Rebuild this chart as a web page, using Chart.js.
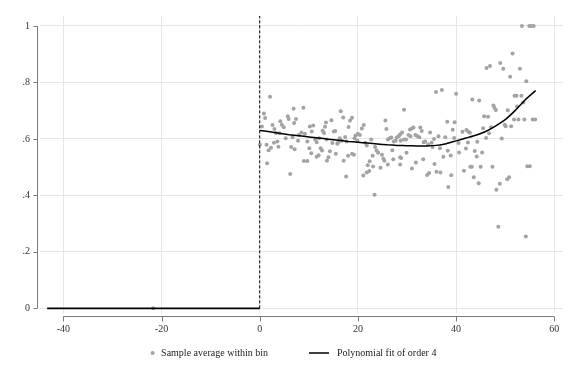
<!DOCTYPE html>
<html><head><meta charset="utf-8">
<script src="https://cdn.jsdelivr.net/npm/chart.js@4/dist/chart.umd.min.js"></script>
<style>html,body{margin:0;padding:0;background:#fff}#wrap{width:576px;height:384px}</style>
</head><body><div id="wrap"><canvas id="c" width="576" height="384"></canvas></div>
<script>
// ---- data ----
const xTicks = [-40, -20, 0, 20, 40, 60];
const yTicks = [0, 0.2, 0.4, 0.6, 0.8, 1];
const cutoff = 0;
const legendLabels = ['Sample average within bin', 'Polynomial fit of order 4'];

// bins left of cutoff
const leftBinX = [-21.7];
const leftBinY = [0];
// bins right of cutoff
const binX = [0.04,0.45,0.85,1.1,1.4,1.5,1.8,2.1,2.3,2.6,2.9,3.0,3.3,3.6,3.8,4.0,4.2,4.5,4.9,5.3,5.7,5.9,6.2,6.4,6.7,6.9,7.0,7.1,7.4,7.8,8.0,8.5,8.9,9.0,9.2,9.7,9.7,10.1,10.2,10.5,10.6,10.9,11.3,11.6,11.6,12.0,12.1,12.4,12.7,12.8,13.1,13.3,13.5,13.6,13.7,14.0,14.3,14.6,14.8,15.1,15.4,15.5,15.8,16.0,16.3,16.5,16.7,17.0,17.1,17.4,17.6,17.7,18.0,18.1,18.4,18.8,18.8,19.2,19.3,19.5,19.9,20.0,20.4,20.8,21.1,21.2,21.5,21.8,21.8,22.0,22.3,22.4,22.7,23.0,23.1,23.4,23.5,23.8,24.1,24.6,24.9,25.2,25.4,25.6,25.8,26.1,26.1,26.5,26.8,27.0,27.2,27.3,27.7,27.9,28.3,28.6,28.6,28.6,28.7,28.8,29.0,29.4,29.4,29.8,29.9,30.3,30.6,30.7,31.0,31.0,31.3,31.7,31.8,32.1,32.5,32.7,33.0,33.3,33.4,33.7,34.1,34.3,34.5,34.7,35.0,35.2,35.5,35.6,35.9,36.0,36.4,36.7,36.8,37.1,37.4,37.8,38.2,38.3,38.4,38.9,39.0,39.3,39.6,39.7,40.0,40.5,40.6,41.3,41.6,42.0,42.1,42.4,42.5,42.8,42.9,43.2,43.3,43.6,43.8,44.2,44.3,44.6,44.7,45.0,45.3,45.5,45.7,46.1,46.2,46.5,46.7,46.9,47.1,47.4,47.6,47.8,48.1,48.2,48.6,48.9,49.0,49.3,49.6,49.9,50.1,50.4,50.5,50.8,51.0,51.2,51.5,51.8,51.9,52.3,52.4,52.7,53.0,53.3,53.4,53.7,53.9,54.2,54.3,54.5,54.9,55.0,55.3,55.6,55.8,56.1];
const binY = [0.579,0.644,0.690,0.674,0.579,0.514,0.560,0.749,0.569,0.649,0.586,0.635,0.621,0.591,0.572,0.620,0.662,0.650,0.641,0.602,0.680,0.670,0.476,0.571,0.606,0.707,0.656,0.563,0.670,0.593,0.614,0.623,0.710,0.522,0.618,0.591,0.522,0.567,0.644,0.549,0.626,0.647,0.598,0.588,0.537,0.542,0.602,0.567,0.559,0.629,0.621,0.643,0.658,0.598,0.523,0.535,0.556,0.666,0.585,0.626,0.628,0.547,0.583,0.588,0.602,0.698,0.593,0.676,0.523,0.607,0.467,0.591,0.540,0.642,0.665,0.675,0.547,0.544,0.602,0.612,0.593,0.618,0.614,0.637,0.470,0.649,0.586,0.577,0.481,0.507,0.486,0.521,0.598,0.540,0.502,0.402,0.571,0.559,0.551,0.498,0.544,0.530,0.523,0.665,0.635,0.598,0.509,0.602,0.605,0.560,0.528,0.591,0.593,0.605,0.609,0.616,0.535,0.509,0.593,0.532,0.623,0.703,0.598,0.598,0.551,0.614,0.633,0.609,0.637,0.495,0.640,0.614,0.516,0.609,0.606,0.640,0.628,0.528,0.588,0.591,0.472,0.580,0.479,0.623,0.586,0.571,0.600,0.511,0.766,0.484,0.609,0.567,0.481,0.773,0.537,0.606,0.661,0.558,0.430,0.541,0.471,0.632,0.603,0.659,0.760,0.585,0.552,0.625,0.487,0.566,0.631,0.587,0.625,0.622,0.501,0.501,0.739,0.464,0.557,0.538,0.590,0.443,0.736,0.501,0.552,0.638,0.680,0.603,0.851,0.678,0.620,0.858,0.641,0.501,0.718,0.710,0.702,0.420,0.289,0.441,0.869,0.601,0.848,0.650,0.645,0.457,0.701,0.464,0.820,0.645,0.902,0.669,0.753,0.753,0.715,0.669,0.848,0.753,1.0,0.729,0.669,0.254,0.804,0.503,1.0,0.503,1.0,0.669,1.0,0.669];

// polynomial fit
const leftFitX = [-43.3, 0];
const leftFitY = [0, 0];
const fitX = [0,2,4,6,8,10,12,14,16,18,20,22,24,26,28,30,32,34,36,38,40,42,44,46,48,50,52,54,56.2];
const fitY = [0.630,0.625,0.620,0.615,0.611,0.607,0.603,0.599,0.595,0.591,0.588,0.585,0.582,0.579,0.577,0.576,0.575,0.575,0.577,0.583,0.593,0.603,0.613,0.626,0.645,0.668,0.700,0.737,0.771];

// ---- chart ----
const X_MIN = -44.75, X_MAX = 61.77, Y_MIN = -0.0164, Y_MAX = 1.035;
const FONT = "'Liberation Serif', 'DejaVu Serif', serif";
const GREY = '#a3a3a3';
const pts = (xs, ys) => xs.map((x, i) => ({x, y: ys[i]}));

const stataAxes = {
  id: 'stataAxes',
  afterDraw(chart) {
    const {ctx, chartArea, scales} = chart;
    const xs = scales.x, ys = scales.y;
    ctx.save();
    ctx.strokeStyle = '#7a7a7a';
    ctx.lineWidth = 1;
    // y axis
    const ax = chartArea.left - 2.5;
    ctx.beginPath();
    ctx.moveTo(ax, ys.getPixelForValue(yTicks[0]));
    ctx.lineTo(ax, ys.getPixelForValue(yTicks[yTicks.length - 1]));
    yTicks.forEach(v => { const p = Math.round(ys.getPixelForValue(v)) + 0.5; ctx.moveTo(ax - 4, p); ctx.lineTo(ax, p); });
    ctx.stroke();
    // x axis
    const ay = chartArea.bottom + 3.5;
    ctx.beginPath();
    ctx.moveTo(xs.getPixelForValue(xTicks[0]), ay);
    ctx.lineTo(xs.getPixelForValue(xTicks[xTicks.length - 1]), ay);
    xTicks.forEach(v => { const p = Math.round(xs.getPixelForValue(v)) + 0.5; ctx.moveTo(p, ay); ctx.lineTo(p, ay + 5); });
    ctx.stroke();
    ctx.restore();
  }
};

const stataLegend = {
  id: 'stataLegend',
  afterDraw(chart) {
    const {ctx, chartArea} = chart;
    ctx.save();
    ctx.font = '10px ' + FONT;
    ctx.textBaseline = 'middle';
    const w1 = ctx.measureText(legendLabels[0]).width;
    const w2 = ctx.measureText(legendLabels[1]).width;
    const total = 10.5 + w1 + 41 + 28 + w2;
    const cx = (chartArea.left + chartArea.right) / 2 - 8;
    let x = cx - total / 2;
    const y = 353;
    ctx.beginPath();
    ctx.fillStyle = GREY;
    ctx.arc(x + 2, y, 2, 0, Math.PI * 2);
    ctx.fill();
    ctx.fillStyle = '#222';
    ctx.fillText(legendLabels[0], x + 10.5, y);
    x += 10.5 + w1 + 41;
    ctx.beginPath();
    ctx.strokeStyle = '#000';
    ctx.lineWidth = 1.5;
    ctx.moveTo(x, y); ctx.lineTo(x + 20, y);
    ctx.stroke();
    ctx.fillText(legendLabels[1], x + 28, y);
    ctx.restore();
  }
};

new Chart(document.getElementById('c'), {
  type: 'scatter',
  data: {
    datasets: [
      {label: legendLabels[0], data: pts(binX, binY).concat(pts(leftBinX, leftBinY)),
       pointRadius: 2, pointHoverRadius: 2, backgroundColor: GREY, borderWidth: 0, showLine: false, order: 3},
      {label: legendLabels[1], type: 'line', data: pts(fitX, fitY), showLine: true, pointRadius: 0,
       borderColor: '#000', borderWidth: 1.5, fill: false, tension: 0.2, order: 1},
      {label: 'left fit', type: 'line', data: pts(leftFitX, leftFitY), showLine: true, pointRadius: 0,
       borderColor: '#000', borderWidth: 1.6, fill: false, order: 1},
      {label: 'cutoff', type: 'line', data: [{x: cutoff, y: 0}, {x: cutoff, y: Y_MAX}], showLine: true, pointRadius: 0,
       borderColor: '#000', borderWidth: 1, borderDash: [3, 2], fill: false, order: 2}
    ]
  },
  options: {
    responsive: false, animation: false, devicePixelRatio: 1,
    layout: {padding: {left: 0, top: 11, right: 13, bottom: 0}},
    plugins: {legend: {display: false}, tooltip: {enabled: false}},
    scales: {
      x: {type: 'linear', min: X_MIN, max: X_MAX,
          afterBuildTicks: s => { s.ticks = xTicks.map(v => ({value: v})); },
          afterFit: s => { s.height = 71; },
          grid: {color: '#e6e6e6', lineWidth: 1, drawTicks: false},
          border: {display: false},
          ticks: {font: {family: FONT, size: 10}, color: '#333', padding: 10, maxRotation: 0,
                  callback: v => String(v)}},
      y: {type: 'linear', min: Y_MIN, max: Y_MAX,
          afterBuildTicks: s => { s.ticks = yTicks.map(v => ({value: v})); },
          afterFit: s => { s.width = 40; },
          grid: {color: '#e6e6e6', lineWidth: 1, drawTicks: false},
          border: {display: false},
          ticks: {font: {family: FONT, size: 10}, color: '#333', padding: 10,
                  callback: v => String(Math.round(v * 10) / 10).replace(/^0\./, '.')}}
    }
  },
  plugins: [stataAxes, stataLegend]
});
</script>
</body></html>
